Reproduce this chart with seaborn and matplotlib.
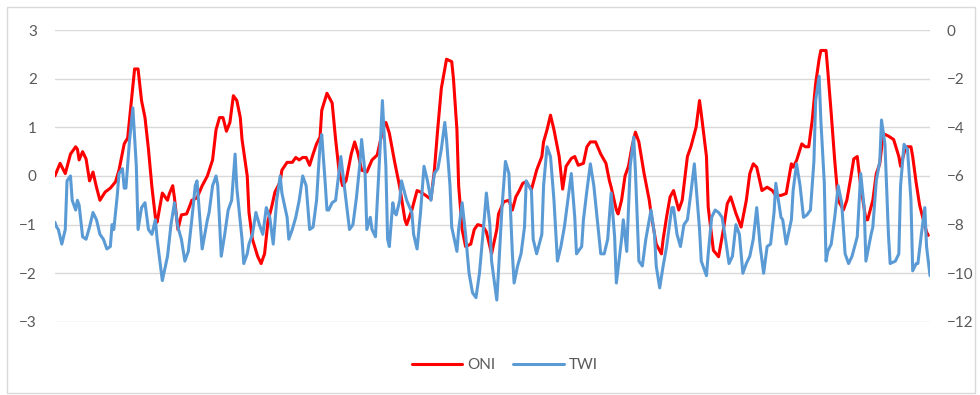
import numpy as np
import pandas as pd
import matplotlib
matplotlib.use('Agg')
import matplotlib.pyplot as plt
from matplotlib.lines import Line2D
from matplotlib.patches import Rectangle
import seaborn as sns

# months since start of record (approx. Jan 1979)
oni_month = [0, 3, 6, 9, 12, 13, 14, 16, 18, 20, 22, 24, 26, 29, 32, 35, 37, 40, 42, 44,
             46, 48, 50, 52, 54, 56, 58, 59, 62, 65, 66, 68, 69, 71, 73, 76, 78, 79, 82, 85,
             88, 91, 93, 95, 97, 99, 101, 103, 105, 107, 108, 111, 112, 114, 117, 119, 121, 123, 125, 127,
             130, 131, 134, 137, 139, 141, 143, 145, 147, 149, 151, 153, 154, 157, 160, 162, 164, 166, 168, 171,
             173, 175, 177, 180, 183, 186, 188, 190, 191, 193, 196, 199, 202, 203, 206, 209, 211, 214, 217, 219,
             221, 223, 226, 229, 230, 232, 233, 235, 237, 240, 242, 244, 247, 249, 252, 255, 256, 259, 262, 264,
             266, 268, 270, 272, 275, 278, 281, 282, 284, 286, 288, 291, 293, 295, 298, 300, 302, 305, 307, 309,
             312, 315, 318, 320, 321, 324, 325, 327, 329, 331, 333, 335, 337, 340, 343, 344, 347, 350, 351, 353,
             355, 357, 360, 362, 365, 367, 370, 372, 373, 376, 377, 380, 383, 386, 388, 390, 393, 396, 399, 401,
             403, 405, 408, 411, 414, 416, 419, 422, 425, 426, 428, 431, 433, 435, 437, 439, 441, 442, 445, 446,
             448, 450, 452, 455, 457, 459, 461, 463, 465, 468, 469, 472, 474, 476, 478, 481, 484, 487, 488, 491,
             494, 495, 497, 499, 501, 503, 504]
oni = [0.0, 0.26, 0.05, 0.45, 0.6, 0.55, 0.33, 0.5, 0.35, -0.1, 0.08, -0.23, -0.5, -0.33, -0.25, -0.12, 0.12, 0.66, 0.78, 1.5,
       2.2, 2.2, 1.55, 1.2, 0.55, -0.23, -0.85, -0.95, -0.35, -0.5, -0.37, -0.2, -0.45, -1.1, -0.8, -0.78, -0.6, -0.5, -0.45, -0.2,
       0.0, 0.33, 0.95, 1.2, 1.2, 0.92, 1.1, 1.65, 1.55, 1.2, 0.75, 0.0, -0.75, -1.3, -1.65, -1.8, -1.6, -0.92, -0.65, -0.33,
       -0.12, 0.12, 0.28, 0.28, 0.38, 0.33, 0.38, 0.38, 0.22, 0.45, 0.66, 0.8, 1.35, 1.7, 1.5, 0.75, 0.1, -0.2, -0.1, 0.45,
       0.7, 0.45, 0.12, 0.08, 0.33, 0.43, 0.75, 1.05, 1.1, 0.88, 0.3, -0.23, -0.9, -1.0, -0.7, -0.3, -0.33, -0.4, -0.48, 0.12,
       1.0, 1.8, 2.4, 2.35, 2.0, 0.95, -0.2, -1.1, -1.45, -1.4, -1.1, -1.0, -1.03, -1.15, -1.6, -1.1, -0.78, -0.53, -0.5, -0.7,
       -0.43, -0.3, -0.15, -0.12, -0.28, 0.12, 0.4, 0.7, 0.95, 1.25, 0.95, 0.4, -0.27, 0.2, 0.36, 0.4, 0.22, 0.26, 0.6, 0.7,
       0.7, 0.45, 0.26, -0.1, -0.23, -0.7, -0.78, -0.5, 0.0, 0.2, 0.6, 0.9, 0.7, 0.05, -0.5, -0.77, -1.4, -1.6, -1.3, -0.84,
       -0.43, -0.3, -0.7, -0.5, 0.4, 0.6, 1.0, 1.55, 1.28, 0.4, -0.64, -1.53, -1.66, -1.05, -0.57, -0.43, -0.77, -1.05, -0.5, 0.05,
       0.25, 0.18, -0.3, -0.23, -0.3, -0.4, -0.4, -0.36, 0.25, 0.18, 0.32, 0.66, 0.6, 0.6, 1.14, 1.9, 2.4, 2.58, 2.58, 2.17,
       1.28, 0.32, -0.5, -0.7, -0.5, -0.09, 0.35, 0.4, -0.2, -0.9, -0.9, -0.5, 0.05, 0.25, 0.87, 0.82, 0.75, 0.4, 0.2, 0.6,
       0.6, 0.4, -0.14, -0.6, -0.88, -1.15, -1.22]

twi_month = [0, 1, 2, 4, 6, 7, 9, 10, 12, 13, 14, 16, 18, 20, 22, 24, 26, 28, 30, 32,
             33, 34, 36, 37, 39, 40, 41, 43, 45, 47, 48, 50, 52, 54, 56, 58, 59, 62, 65, 67,
             69, 71, 73, 75, 77, 79, 81, 82, 84, 85, 88, 89, 91, 93, 94, 96, 98, 100, 102, 104,
             105, 108, 109, 111, 112, 114, 116, 118, 120, 122, 124, 126, 128, 130, 131, 134, 135, 137, 139, 141,
             143, 145, 147, 149, 151, 153, 154, 156, 157, 158, 160, 162, 165, 167, 170, 172, 174, 176, 177, 179,
             180, 182, 183, 185, 186, 188, 189, 191, 192, 193, 195, 196, 197, 199, 200, 203, 206, 207, 209, 211,
             213, 215, 217, 219, 221, 223, 225, 226, 228, 229, 232, 233, 235, 237, 239, 241, 243, 245, 247, 249,
             251, 252, 255, 256, 258, 260, 262, 264, 265, 267, 269, 271, 272, 275, 276, 278, 281, 282, 284, 286,
             288, 290, 292, 294, 296, 298, 300, 301, 304, 305, 307, 309, 311, 313, 315, 317, 319, 321, 323, 324,
             327, 328, 330, 332, 334, 335, 337, 339, 341, 344, 346, 347, 349, 351, 353, 356, 357, 359, 361, 363,
             365, 367, 369, 370, 372, 373, 376, 377, 379, 381, 383, 385, 387, 389, 391, 393, 395, 397, 399, 401,
             403, 405, 407, 409, 411, 413, 415, 416, 419, 420, 422, 425, 426, 428, 430, 432, 434, 436, 438, 439,
             441, 442, 444, 445, 446, 448, 450, 452, 454, 456, 458, 460, 463, 465, 467, 468, 471, 472, 474, 476,
             477, 479, 481, 482, 485, 487, 488, 490, 492, 494, 495, 497, 498, 500, 502, 503, 505]
twi = [-7.9, -8.1, -8.2, -8.8, -8.2, -6.2, -6.0, -7.0, -7.4, -7.0, -7.2, -8.5, -8.6, -8.1, -7.5, -7.8, -8.4, -8.6, -9.0, -8.9,
       -8.0, -8.2, -6.8, -5.9, -5.7, -6.5, -6.5, -4.6, -3.2, -5.6, -8.2, -7.3, -7.1, -8.2, -8.4, -7.8, -8.6, -10.3, -9.3, -8.0,
       -7.1, -8.1, -8.6, -9.5, -9.1, -7.8, -6.4, -6.2, -8.1, -9.0, -7.8, -7.5, -6.4, -6.0, -6.4, -9.3, -8.4, -7.4, -7.0, -5.1,
       -6.5, -8.6, -9.6, -9.2, -8.8, -8.4, -7.5, -8.0, -8.4, -7.3, -7.7, -8.8, -7.0, -6.0, -6.7, -7.7, -8.6, -8.2, -7.7, -7.0,
       -6.0, -6.4, -8.2, -8.1, -7.0, -4.7, -4.3, -6.3, -7.4, -7.4, -7.1, -7.0, -5.2, -6.4, -8.2, -8.0, -6.9, -5.5, -4.5, -5.9,
       -8.2, -7.7, -8.2, -8.5, -7.1, -4.4, -2.9, -5.6, -8.6, -8.9, -7.1, -7.5, -7.6, -7.0, -6.2, -7.0, -7.5, -8.4, -9.0, -7.5,
       -5.6, -6.2, -7.0, -5.9, -5.7, -4.9, -3.8, -4.5, -6.4, -8.1, -9.1, -8.2, -7.1, -8.4, -10.0, -10.8, -11.0, -10.0, -8.4, -6.7,
       -8.0, -9.5, -11.1, -9.9, -7.3, -5.4, -5.9, -9.2, -10.4, -9.7, -9.2, -8.1, -6.2, -6.6, -8.6, -9.2, -8.4, -6.4, -4.8, -5.2,
       -7.0, -9.5, -8.9, -8.1, -7.0, -5.9, -7.7, -9.2, -8.9, -7.8, -6.6, -5.5, -6.4, -7.8, -9.2, -9.2, -8.6, -6.7, -8.5, -10.4,
       -8.6, -7.8, -9.1, -5.6, -4.4, -5.8, -9.5, -9.7, -8.6, -7.4, -8.4, -9.7, -10.6, -9.7, -8.9, -7.3, -7.3, -8.4, -8.9, -8.0,
       -7.8, -6.7, -5.5, -6.4, -8.2, -9.5, -10.1, -9.2, -7.7, -7.4, -7.5, -7.7, -8.6, -9.6, -9.3, -8.0, -8.4, -10.0, -9.6, -9.3,
       -8.6, -7.3, -8.9, -10.0, -8.9, -8.8, -7.5, -6.3, -7.7, -7.8, -8.8, -7.8, -6.6, -5.5, -6.4, -7.7, -7.6, -7.4, -5.4, -2.9,
       -1.9, -3.7, -6.3, -9.5, -9.1, -8.8, -7.7, -6.4, -7.1, -9.2, -9.6, -9.3, -8.5, -5.9, -7.3, -9.5, -8.4, -8.1, -6.2, -5.4,
       -3.7, -4.7, -8.4, -9.6, -9.5, -9.2, -6.4, -4.7, -4.9, -7.0, -9.9, -9.6, -9.6, -8.4, -7.3, -8.9, -10.1]

oni_df = pd.DataFrame({'month': oni_month, 'ONI': oni})
twi_df = pd.DataFrame({'month': twi_month, 'TWI': twi})

sns.set_style('white')
plt.rcParams['font.family'] = ['Lato', 'DejaVu Sans']

grey = '#595959'
red = '#ff0000'
blue = '#5b9bd5'
fig = plt.figure(figsize=(9.8, 3.95), dpi=100)
ax = fig.add_axes([0.056, 0.185, 0.893, 0.739])
ax2 = ax.twinx()

sns.lineplot(data=oni_df, x='month', y='ONI', ax=ax, color=red, lw=2.2,
             solid_joinstyle='round', solid_capstyle='round')
sns.lineplot(data=twi_df, x='month', y='TWI', ax=ax2, color=blue, lw=2.2,
             solid_joinstyle='round', solid_capstyle='round')

ax.set_xlim(0, 505)
ax.set_ylim(-3, 3)
ax2.set_ylim(-12, 0)
ax.set_yticks(range(-3, 4))
ax2.set_yticks(range(-12, 1, 2))
ax.set_xticks([])
ax.set_xlabel('')
ax.set_ylabel('')
ax2.set_ylabel('')

ax.yaxis.grid(True, color='#d9d9d9', lw=1)
ax.set_axisbelow(True)
for a in (ax, ax2):
    for s in a.spines.values():
        s.set_visible(False)
ax.tick_params(axis='y', length=0, pad=13, labelsize=11, labelcolor=grey)
ax2.tick_params(axis='y', length=0, pad=12, labelsize=11, labelcolor=grey)

handles = [Line2D([], [], color=red, lw=2.2), Line2D([], [], color=blue, lw=2.2)]
fig.legend(handles, ['ONI', 'TWI'], loc='center', bbox_to_anchor=(0.515, 0.075), ncol=2,
           frameon=False, handlelength=3.3, columnspacing=1.2, handletextpad=0.3,
           fontsize=11, labelcolor=grey)

# light border of the chart area
fig.add_artist(Rectangle((0.007, 0.005), 0.988, 0.977, transform=fig.transFigure,
                         fill=False, ec='#d9d9d9', lw=1))

plt.savefig('out.png', dpi=100)
